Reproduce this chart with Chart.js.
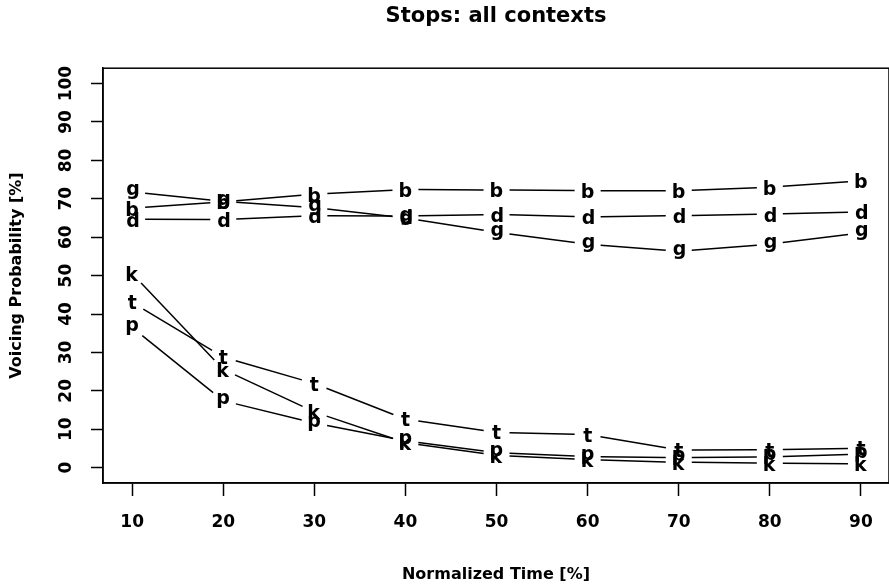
<!DOCTYPE html>
<html>
<head>
<meta charset="utf-8">
<script src="https://cdn.jsdelivr.net/npm/chart.js@4/dist/chart.umd.min.js"></script>
<style>
  html, body { margin: 0; padding: 0; background: #fff; overflow: hidden; }
  canvas { display: block; }
</style>
</head>
<body>
<canvas id="myChart" width="889" height="586"></canvas>
<script>
// normalized time points (x) and tick labels
const timePoints = [10, 20, 30, 40, 50, 60, 70, 80, 90];
const xTicks = [10, 20, 30, 40, 50, 60, 70, 80, 90];
const yTicks = [0, 10, 20, 30, 40, 50, 60, 70, 80, 90, 100];

// voicing probability per stop
const bVals = [67.6, 69.2, 71.2, 72.4, 72.3, 72.1, 72.1, 73.0, 74.7];
const dVals = [64.7, 64.6, 65.6, 65.5, 65.9, 65.3, 65.6, 66.0, 66.6];
const gVals = [71.8, 69.3, 67.7, 65.0, 61.3, 58.2, 56.3, 58.2, 61.1];
const pVals = [36.5, 17.4, 11.6, 7.0, 3.9, 2.9, 2.6, 2.8, 3.5];
const tVals = [43.0, 28.8, 21.9, 12.6, 9.2, 8.6, 4.6, 4.7, 5.0];
const kVals = [50.5, 25.6, 14.5, 6.5, 3.2, 2.1, 1.4, 1.2, 1.0];

const letters = ['b', 'd', 'g', 'p', 't', 'k'];
const series = [bVals, dVals, gVals, pVals, tVals, kVals];

const FONT = '"DejaVu Sans", sans-serif';

// R style type="b": letters as points, lines with a gap round each letter
const letterPoints = {
  id: 'letterPoints',
  afterDatasetsDraw(chart) {
    const ctx = chart.ctx;
    const gap = 13;
    ctx.save();
    ctx.strokeStyle = '#000';
    ctx.lineWidth = 1.5;
    chart.data.datasets.forEach((ds, i) => {
      const pts = chart.getDatasetMeta(i).data;
      for (let j = 0; j < pts.length - 1; j++) {
        const a = pts[j], b = pts[j + 1];
        const dx = b.x - a.x, dy = b.y - a.y;
        const len = Math.sqrt(dx * dx + dy * dy);
        if (len <= gap * 2) continue;
        const ux = dx / len, uy = dy / len;
        ctx.beginPath();
        ctx.moveTo(a.x + ux * gap, a.y + uy * gap);
        ctx.lineTo(b.x - ux * gap, b.y - uy * gap);
        ctx.stroke();
      }
    });
    ctx.font = 'bold 19px ' + FONT;
    ctx.fillStyle = '#000';
    ctx.textAlign = 'left';
    ctx.textBaseline = 'alphabetic';
    chart.data.datasets.forEach((ds, i) => {
      const ch = ds.label;
      const m = ctx.measureText(ch);
      chart.getDatasetMeta(i).data.forEach(pt => {
        const x = pt.x - (m.actualBoundingBoxRight - m.actualBoundingBoxLeft) / 2;
        const y = pt.y + (m.actualBoundingBoxAscent - m.actualBoundingBoxDescent) / 2;
        ctx.fillText(ch, x, y);
      });
    });
    ctx.restore();
  },
  afterDraw(chart) {
    const ctx = chart.ctx;
    const area = chart.chartArea;
    const yScale = chart.scales.y;
    ctx.save();
    // box round the plot
    ctx.strokeStyle = '#000';
    ctx.lineWidth = 1.5;
    ctx.strokeRect(area.left, area.top, area.right - area.left, area.bottom - area.top);
    // y tick labels parallel to the axis
    ctx.font = 'bold 17px ' + FONT;
    ctx.fillStyle = '#000';
    ctx.textAlign = 'center';
    ctx.textBaseline = 'middle';
    yTicks.forEach(v => {
      const y = yScale.getPixelForValue(v);
      ctx.save();
      ctx.translate(67, y);
      ctx.rotate(-Math.PI / 2);
      ctx.fillText(String(v), 0, 0);
      ctx.restore();
    });
    ctx.restore();
  }
};

const elem = document.getElementById('myChart').getContext('2d');
new Chart(elem, {
  type: 'line',
  data: {
    datasets: series.map((vals, i) => ({
      label: letters[i],
      data: timePoints.map((t, j) => ({ x: t, y: vals[j] })),
      showLine: false,
      pointRadius: 0,
      pointHoverRadius: 0
    }))
  },
  options: {
    responsive: false,
    animation: false,
    events: [],
    layout: { padding: 0 },
    plugins: {
      legend: { display: false },
      tooltip: { enabled: false },
      title: {
        display: true,
        fullSize: false,
        text: 'Stops: all contexts',
        color: '#000',
        font: { family: FONT, size: 21, weight: 'bold', lineHeight: 1.2 },
        padding: { top: 4, bottom: 39 }
      }
    },
    scales: {
      x: {
        type: 'linear',
        position: 'bottom',
        min: 6.8,
        max: 93.08,
        afterBuildTicks: s => { s.ticks = xTicks.map(v => ({ value: v })); },
        afterFit: s => { s.height = 103; },
        grid: {
          drawOnChartArea: false,
          drawTicks: true,
          tickLength: 13,
          tickWidth: 1.5,
          tickColor: '#000'
        },
        border: { display: true, color: '#000', width: 1.5 },
        ticks: {
          color: '#000',
          padding: 16,
          maxRotation: 0,
          font: { family: FONT, size: 17, weight: 'bold' }
        },
        title: {
          display: true,
          text: 'Normalized Time [%]',
          color: '#000',
          font: { family: FONT, size: 16, weight: 'bold', lineHeight: 1.2 },
          padding: { top: 0, bottom: 2 }
        }
      },
      y: {
        type: 'linear',
        min: -4,
        max: 104,
        afterBuildTicks: s => { s.ticks = yTicks.map(v => ({ value: v })); },
        afterFit: s => { s.width = 103; },
        grid: {
          drawOnChartArea: false,
          drawTicks: true,
          tickLength: 12,
          tickWidth: 1.5,
          tickColor: '#000'
        },
        border: { display: true, color: '#000', width: 1.5 },
        ticks: {
          color: 'rgba(0,0,0,0)',
          font: { family: FONT, size: 17, weight: 'bold' }
        },
        title: {
          display: true,
          text: 'Voicing Probability [%]',
          color: '#000',
          font: { family: FONT, size: 16, weight: 'bold', lineHeight: 1.2 },
          padding: { top: 7, bottom: 0 }
        }
      }
    }
  },
  plugins: [letterPoints]
});
</script>
</body>
</html>
